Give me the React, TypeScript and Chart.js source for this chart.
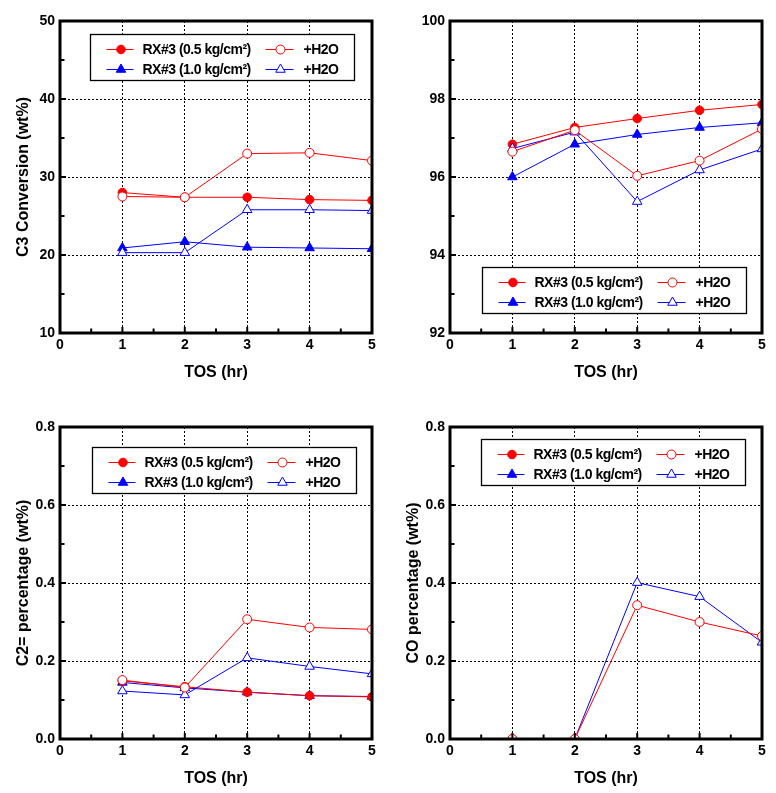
import React, { useEffect, useRef } from 'react';
import { Chart, registerables } from 'chart.js';

Chart.register(...registerables);

// ---------- data ----------
const tosHours = [1, 2, 3, 4, 5];
const tosCOBase = [1, 2];

const seriesLabels = ['RX#3 (0.5 kg/cm²)', '+H2O', 'RX#3 (1.0 kg/cm²)', '+H2O'];
const xTickLabels = ['0', '1', '2', '3', '4', '5'];

// C3 conversion (wt%)
const c3Rx05 = [28.0, 27.4, 27.4, 27.1, 27.0];
const c3Rx05H2O = [27.5, 27.4, 33.0, 33.1, 32.1];
const c3Rx10 = [20.9, 21.7, 21.0, 20.9, 20.8];
const c3Rx10H2O = [20.3, 20.3, 25.8, 25.8, 25.7];

// top-right panel (no title)
const p2Rx05 = [96.84, 97.27, 97.5, 97.71, 97.86];
const p2Rx05H2O = [96.65, 97.2, 96.03, 96.42, 97.23];
const p2Rx10 = [96.0, 96.84, 97.09, 97.27, 97.39];
const p2Rx10H2O = [96.73, 97.15, 95.37, 96.18, 96.72];

// C2= percentage (wt%)
const c2Rx05 = [0.149, 0.134, 0.12, 0.111, 0.108];
const c2Rx05H2O = [0.151, 0.132, 0.307, 0.286, 0.281];
const c2Rx10 = [0.145, 0.131, 0.12, 0.111, 0.109];
const c2Rx10H2O = [0.123, 0.113, 0.208, 0.186, 0.167];

// CO percentage (wt%)
const coRx05 = [0, 0];
const coRx05H2O = [0, 0, 0.343, 0.3, 0.264];
const coRx10 = [0, 0];
const coRx10H2O = [0, 0, 0.401, 0.365, 0.248];

const RED = '#ff0000';
const BLUE = '#0000ff';
const FONT = '"Liberation Sans", Arial, sans-serif';

type PanelCfg = {
  left: number;
  top: number;
  yMin: number;
  yMax: number;
  yStep: number;
  yMajor: number;
  decimals: number;
  yTitle: string;
  legendX: number;
  legendY: number;
  series: { xs: number[]; ys: number[] }[];
};

const panels: PanelCfg[] = [
  {
    left: 0, top: 0, yMin: 10, yMax: 50, yStep: 5, yMajor: 10, decimals: 0,
    yTitle: 'C3 Conversion (wt%)', legendX: 30, legendY: 13,
    series: [
      { xs: tosHours, ys: c3Rx05 },
      { xs: tosHours, ys: c3Rx05H2O },
      { xs: tosHours, ys: c3Rx10 },
      { xs: tosHours, ys: c3Rx10H2O },
    ],
  },
  {
    left: 390, top: 0, yMin: 92, yMax: 100, yStep: 1, yMajor: 2, decimals: 0,
    yTitle: '', legendX: 32, legendY: 246,
    series: [
      { xs: tosHours, ys: p2Rx05 },
      { xs: tosHours, ys: p2Rx05H2O },
      { xs: tosHours, ys: p2Rx10 },
      { xs: tosHours, ys: p2Rx10H2O },
    ],
  },
  {
    left: 0, top: 406, yMin: 0, yMax: 0.8, yStep: 0.1, yMajor: 0.2, decimals: 1,
    yTitle: 'C2= percentage (wt%)', legendX: 32, legendY: 20,
    series: [
      { xs: tosHours, ys: c2Rx05 },
      { xs: tosHours, ys: c2Rx05H2O },
      { xs: tosHours, ys: c2Rx10 },
      { xs: tosHours, ys: c2Rx10H2O },
    ],
  },
  {
    left: 390, top: 406, yMin: 0, yMax: 0.8, yStep: 0.1, yMajor: 0.2, decimals: 1,
    yTitle: 'CO percentage (wt%)', legendX: 31, legendY: 12,
    series: [
      { xs: tosCOBase, ys: coRx05 },
      { xs: tosHours, ys: coRx05H2O },
      { xs: tosCOBase, ys: coRx10 },
      { xs: tosHours, ys: coRx10H2O },
    ],
  },
];

const seriesStyles = [
  { color: RED, fill: RED, shape: 'circle', radius: 4.3, order: 2 },
  { color: RED, fill: '#ffffff', shape: 'circle', radius: 4.5, order: 0 },
  { color: BLUE, fill: BLUE, shape: 'triangle', radius: 5.5, order: 3 },
  { color: BLUE, fill: '#ffffff', shape: 'triangle', radius: 5.5, order: 1 },
];

const CANVAS_W = 388;
const CANVAS_H = 387;

const near = (a: number, b: number) => Math.abs(a - b) < 1e-6;
const isMultiple = (v: number, step: number) => near(Math.round(v / step) * step, v);

function drawMarker(ctx: CanvasRenderingContext2D, shape: string, x: number, y: number, r: number, stroke: string, fill: string) {
  ctx.beginPath();
  if (shape === 'circle') {
    ctx.arc(x, y, r, 0, Math.PI * 2);
  } else {
    let rad = 0;
    for (let i = 0; i < 3; i++) {
      const px = x + Math.sin(rad) * r;
      const py = y - Math.cos(rad) * r;
      if (i === 0) ctx.moveTo(px, py); else ctx.lineTo(px, py);
      rad += (Math.PI * 2) / 3;
    }
    ctx.closePath();
  }
  ctx.fillStyle = fill;
  ctx.fill();
  ctx.lineWidth = 1;
  ctx.strokeStyle = stroke;
  ctx.stroke();
}

const framePlugin = {
  id: 'frameTicks',
  afterDraw(chart: any, _args: any, opts: any) {
    const { ctx, chartArea } = chart;
    const { left, top, right, bottom } = chartArea;
    ctx.save();
    ctx.strokeStyle = '#000';
    const xs = chart.scales.x;
    xs.ticks.forEach((t: any) => {
      const px = xs.getPixelForValue(t.value);
      const major = isMultiple(t.value, 1);
      ctx.lineWidth = 2;
      ctx.beginPath();
      ctx.moveTo(px, bottom);
      ctx.lineTo(px, bottom - (major ? 6 : 4.5));
      ctx.stroke();
    });
    const ys = chart.scales.y;
    ys.ticks.forEach((t: any) => {
      const py = ys.getPixelForValue(t.value);
      const major = isMultiple(t.value, opts.yMajor);
      ctx.lineWidth = 2;
      ctx.beginPath();
      ctx.moveTo(left, py);
      ctx.lineTo(left + (major ? 6 : 4.5), py);
      ctx.stroke();
    });
    ctx.lineWidth = 3;
    ctx.strokeStyle = '#000';
    ctx.strokeRect(left, top, right - left, bottom - top);
    ctx.restore();
  },
};

const boxLegendPlugin = {
  id: 'boxLegend',
  afterDraw(chart: any, _args: any, opts: any) {
    const { ctx, chartArea } = chart;
    const bx = Math.round(chartArea.left + opts.x) + 0.5;
    const by = Math.round(chartArea.top + opts.y) + 0.5;
    const w = 264;
    const h = 46;
    ctx.save();
    ctx.fillStyle = '#ffffff';
    ctx.fillRect(bx, by, w, h);
    ctx.lineWidth = 1.3;
    ctx.strokeStyle = '#000';
    ctx.strokeRect(bx, by, w, h);
    const lineStart = [16, 175];
    const lineEnd = [43, 203];
    const textX = [52, 213];
    chart.data.datasets.forEach((ds: any, i: number) => {
      const col = i % 2;
      const row = Math.floor(i / 2);
      const cy = by + 15 + row * 20;
      const st = seriesStyles[i];
      ctx.lineWidth = 1;
      ctx.strokeStyle = st.color;
      ctx.beginPath();
      ctx.moveTo(bx + lineStart[col], cy);
      ctx.lineTo(bx + lineEnd[col], cy);
      ctx.stroke();
      drawMarker(ctx, st.shape, bx + (lineStart[col] + lineEnd[col]) / 2 + 1, cy, st.radius, st.color, st.fill);
      ctx.fillStyle = '#000';
      ctx.font = `bold 14px ${FONT}`;
      (ctx as any).letterSpacing = '-0.5px';
      ctx.textBaseline = 'middle';
      ctx.textAlign = 'left';
      ctx.fillText(ds.label, bx + textX[col], cy + 1);
      (ctx as any).letterSpacing = '0px';
    });
    ctx.restore();
  },
};

function Panel({ cfg }: { cfg: PanelCfg }) {
  const ref = useRef<HTMLCanvasElement | null>(null);
  useEffect(() => {
    if (!ref.current) return;
    const datasets = cfg.series.map((s, i) => {
      const st = seriesStyles[i];
      return {
        label: seriesLabels[i],
        data: s.xs.map((x, j) => ({ x, y: s.ys[j] })),
        borderColor: st.color,
        backgroundColor: st.fill,
        borderWidth: 1,
        pointStyle: st.shape,
        pointRadius: st.radius,
        pointBorderWidth: 1,
        pointBackgroundColor: st.fill,
        pointBorderColor: st.color,
        order: st.order,
        tension: 0,
      };
    });
    const chart = new Chart(ref.current, {
      type: 'line',
      data: { datasets } as any,
      plugins: [framePlugin, boxLegendPlugin] as any,
      options: {
        animation: false,
        responsive: false,
        layout: { padding: { left: 0, top: 21, right: 16, bottom: 0 } },
        plugins: {
          legend: { display: false },
          tooltip: { enabled: false },
          frameTicks: { yMajor: cfg.yMajor },
          boxLegend: { x: cfg.legendX, y: cfg.legendY },
        } as any,
        scales: {
          x: {
            type: 'linear',
            min: 0,
            max: 5,
            afterFit: (s: any) => { s.height = 54; },
            ticks: {
              stepSize: 0.5,
              autoSkip: false,
              maxRotation: 0,
              padding: 4,
              color: '#000',
              font: { family: FONT, size: 14, weight: 'bold' },
              callback: (v: any) => (isMultiple(Number(v), 1) ? xTickLabels[Math.round(Number(v))] : ''),
            },
            grid: {
              drawTicks: false,
              lineWidth: 1,
              color: (c: any) => {
                const v = c.tick ? c.tick.value : 0;
                return isMultiple(v, 1) && v > 0.01 && v < 4.99 ? '#000' : 'rgba(0,0,0,0)';
              },
            },
            border: { display: false, dash: [2, 2] },
            title: {
              display: true,
              text: 'TOS (hr)',
              color: '#000',
              font: { family: FONT, size: 16, weight: 'bold' },
              padding: { top: 0, bottom: 5 },
            },
          },
          y: {
            type: 'linear',
            min: cfg.yMin,
            max: cfg.yMax,
            afterFit: (s: any) => { s.width = 60; },
            ticks: {
              stepSize: cfg.yStep,
              autoSkip: false,
              padding: 5,
              color: '#000',
              font: { family: FONT, size: 14, weight: 'bold' },
              callback: (v: any) => (isMultiple(Number(v), cfg.yMajor) ? Number(v).toFixed(cfg.decimals) : ''),
            },
            grid: {
              drawTicks: false,
              lineWidth: 1,
              color: (c: any) => {
                const v = c.tick ? c.tick.value : cfg.yMin;
                return isMultiple(v, cfg.yMajor) && v > cfg.yMin + 1e-6 && v < cfg.yMax - 1e-6 ? '#000' : 'rgba(0,0,0,0)';
              },
            },
            border: { display: false, dash: [2, 2] },
            title: {
              display: cfg.yTitle !== '',
              text: cfg.yTitle,
              color: '#000',
              font: { family: FONT, size: 16, weight: 'bold' },
              padding: { top: 14, bottom: 0 },
            },
          },
        },
      } as any,
    });
    return () => chart.destroy();
  }, [cfg]);
  return (
    <canvas
      ref={ref}
      width={CANVAS_W}
      height={CANVAS_H}
      style={{ position: 'absolute', left: cfg.left, top: cfg.top, width: CANVAS_W, height: CANVAS_H }}
    />
  );
}

export default function App() {
  return (
    <div style={{ position: 'absolute', left: 0, top: 0, width: 776, height: 793, background: '#fff', overflow: 'hidden' }}>
      {panels.map((p, i) => (
        <Panel key={i} cfg={p} />
      ))}
    </div>
  );
}
